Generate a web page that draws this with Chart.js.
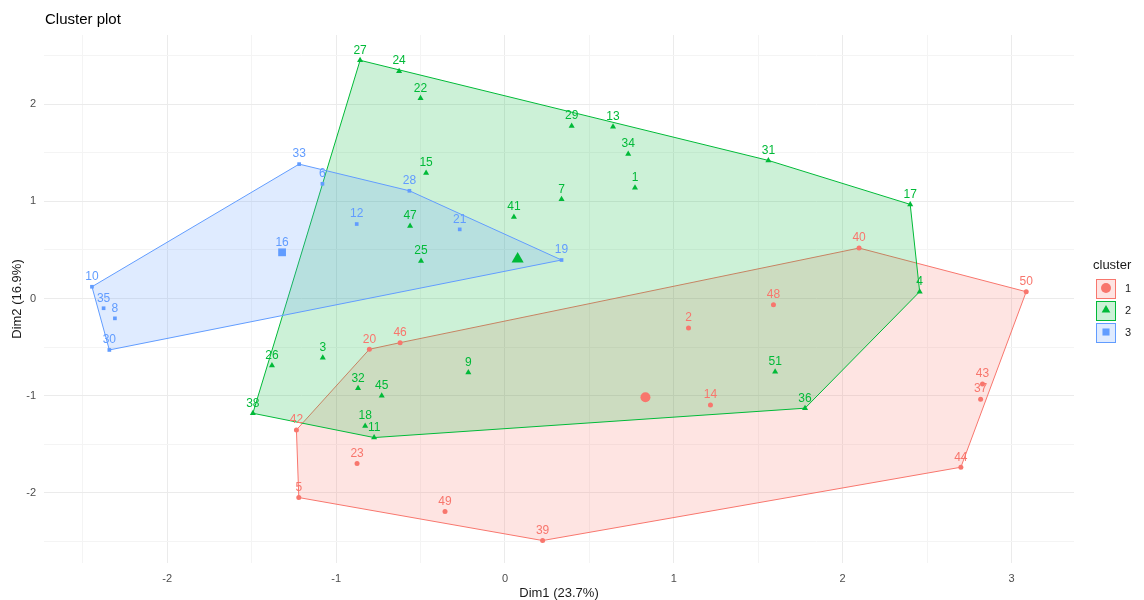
<!DOCTYPE html>
<html>
<head>
<meta charset="utf-8">
<script src="https://cdn.jsdelivr.net/npm/chart.js@4.4.1/dist/chart.umd.min.js"></script>
<style>
  html, body { margin: 0; padding: 0; background: #fff; }
</style>
</head>
<body>
<canvas id="clusterChart" width="1144" height="600"></canvas>
<script>
// Cluster 1 (rood)
const c1Labels = ['2', '5', '14', '20', '23', '37', '39', '40', '42', '43', '44', '46', '48', '49', '50'];
const c1Dim1 = [1.087, -1.221, 1.217, -0.803, -0.876, 2.817, 0.223, 2.097, -1.235, 2.828, 2.70, -0.621, 1.59, -0.355, 3.087];
const c1Dim2 = [-0.303, -2.047, -1.095, -0.522, -1.698, -1.035, -2.489, 0.519, -1.351, -0.879, -1.735, -0.454, -0.064, -2.191, 0.07];

// Cluster 2 (groen)
const c2Labels = ['1', '3', '4', '7', '9', '11', '13', '15', '17', '18', '22', '24', '25', '26', '27', '29', '31', '32', '34', '36', '38', '41', '45', '47', '51'];
const c2Dim1 = [0.77, -1.079, 2.456, 0.335, -0.217, -0.775, 0.64, -0.467, 2.40, -0.828, -0.50, -0.627, -0.497, -1.38, -0.858, 0.395, 1.56, -0.87, 0.73, 1.777, -1.493, 0.053, -0.73, -0.562, 1.60];
const c2Dim2 = [1.14, -0.608, 0.07, 1.02, -0.762, -1.43, 1.766, 1.29, 0.968, -1.31, 2.06, 2.338, 0.385, -0.69, 2.45, 1.773, 1.42, -0.923, 1.485, -1.128, -1.18, 0.838, -1.00, 0.745, -0.752];

// Cluster 3 (blauw)
const c3Labels = ['6', '8', '10', '12', '16', '19', '21', '28', '30', '33', '35'];
const c3Dim1 = [-1.081, -2.31, -2.446, -0.878, -1.32, 0.335, -0.268, -0.566, -2.343, -1.219, -2.377];
const c3Dim2 = [1.18, -0.204, 0.121, 0.766, 0.475, 0.396, 0.711, 1.108, -0.529, 1.382, -0.10];

// Middelpunten van de clusters
const centerNames = ['1', '2', '3'];
const centerDim1 = [0.832, 0.075, -1.32];
const centerDim2 = [-1.016, 0.406, 0.475];

// Ticks en assen
const xTicks = [-2.5, -2, -1.5, -1, -0.5, 0, 0.5, 1, 1.5, 2, 2.5, 3];
const yTicks = [-2.5, -2, -1.5, -1, -0.5, 0, 0.5, 1, 1.5, 2, 2.5];

// Kleuren en vormen per cluster
const clusterColors = ['#F8766D', '#00BA38', '#619CFF'];
const clusterFills = ['rgba(248,118,109,0.2)', 'rgba(0,186,56,0.2)', 'rgba(97,156,255,0.2)'];
const clusterShapes = ['circle', 'triangle', 'rect'];
const pointSizes = [2.5, 3.5, 2.6];
const centerSizes = [5, 7, 5.5];
const fontFamily = '"Liberation Sans", Arial, sans-serif';

const clusters = [
    { labels: c1Labels, dim1: c1Dim1, dim2: c1Dim2 },
    { labels: c2Labels, dim1: c2Dim1, dim2: c2Dim2 },
    { labels: c3Labels, dim1: c3Dim1, dim2: c3Dim2 }
].map(c => c.labels.map((l, i) => ({ x: c.dim1[i], y: c.dim2[i], label: l })));

// Convexe omhullende (monotone chain)
function convexHull(pts) {
    const p = pts.slice().sort((a, b) => a.x - b.x || a.y - b.y);
    const cross = (o, a, b) => (a.x - o.x) * (b.y - o.y) - (a.y - o.y) * (b.x - o.x);
    const build = list => {
        const out = [];
        list.forEach(pt => {
            while (out.length >= 2 && cross(out[out.length - 2], out[out.length - 1], pt) <= 0) out.pop();
            out.push(pt);
        });
        out.pop();
        return out;
    };
    return build(p).concat(build(p.slice().reverse()));
}

// Plugin: polygonen achter de punten
const hullPlugin = {
    id: 'hulls',
    beforeDatasetsDraw(chart) {
        const { ctx, chartArea, scales: { x, y } } = chart;
        ctx.save();
        ctx.beginPath();
        ctx.rect(chartArea.left, chartArea.top, chartArea.width, chartArea.height);
        ctx.clip();
        clusters.forEach((pts, i) => {
            const hull = convexHull(pts);
            ctx.beginPath();
            hull.forEach((p, j) => {
                const px = x.getPixelForValue(p.x);
                const py = y.getPixelForValue(p.y);
                if (j === 0) ctx.moveTo(px, py); else ctx.lineTo(px, py);
            });
            ctx.closePath();
            ctx.fillStyle = clusterFills[i];
            ctx.fill();
            ctx.strokeStyle = clusterColors[i];
            ctx.lineWidth = 1;
            ctx.stroke();
        });
        ctx.restore();
    }
};

// Plugin: labels, titel en legenda
const textPlugin = {
    id: 'texts',
    afterDatasetsDraw(chart) {
        const { ctx, scales: { x, y } } = chart;
        ctx.save();
        ctx.font = '12px ' + fontFamily;
        ctx.textAlign = 'center';
        ctx.textBaseline = 'bottom';
        clusters.forEach((pts, i) => {
            ctx.fillStyle = clusterColors[i];
            pts.forEach(p => {
                ctx.fillText(p.label, x.getPixelForValue(p.x), y.getPixelForValue(p.y) - 4);
            });
        });
        ctx.restore();
    },
    afterDraw(chart) {
        const { ctx, chartArea } = chart;
        ctx.save();
        ctx.fillStyle = '#000';
        ctx.font = '15px ' + fontFamily;
        ctx.textAlign = 'left';
        ctx.textBaseline = 'middle';
        ctx.fillText('Cluster plot', 45, 20);

        // legenda
        const lx = chartArea.right + 22;
        ctx.font = '13px ' + fontFamily;
        ctx.fillStyle = '#1A1A1A';
        ctx.fillText('cluster', chartArea.right + 19, 265);
        centerNames.forEach((name, i) => {
            const top = 279 + i * 22;
            ctx.fillStyle = clusterFills[i];
            ctx.fillRect(lx, top, 20, 20);
            ctx.strokeStyle = clusterColors[i];
            ctx.lineWidth = 1;
            ctx.strokeRect(lx + 0.5, top + 0.5, 19, 19);
            ctx.fillStyle = clusterColors[i];
            Chart.helpers.drawPoint(ctx, { pointStyle: clusterShapes[i], radius: 5, rotation: 0, borderWidth: 0 }, lx + 10, top + 9);
            ctx.fillStyle = '#1A1A1A';
            ctx.font = '11px ' + fontFamily;
            ctx.fillText(name, lx + 29, top + 10);
        });
        ctx.restore();
    }
};

// Datasets: punten per cluster en de middelpunten
const datasets = clusters.map((pts, i) => ({
    label: centerNames[i],
    data: pts.map(p => ({ x: p.x, y: p.y })),
    pointStyle: clusterShapes[i],
    pointRadius: pointSizes[i],
    backgroundColor: clusterColors[i],
    borderWidth: 0
})).concat(centerNames.map((name, i) => ({
    label: 'centrum ' + name,
    data: [{ x: centerDim1[i], y: centerDim2[i] }],
    pointStyle: clusterShapes[i],
    pointRadius: centerSizes[i],
    backgroundColor: clusterColors[i],
    borderWidth: 0
})));

const gridColor = ctx => Number.isInteger(ctx.tick.value) ? '#EBEBEB' : '#F4F4F4';

new Chart(document.getElementById('clusterChart').getContext('2d'), {
    type: 'scatter',
    data: { datasets: datasets },
    options: {
        responsive: false,
        animation: false,
        devicePixelRatio: 1,
        layout: { padding: { top: 35, right: 70, left: 0, bottom: 0 } },
        plugins: {
            legend: { display: false },
            tooltip: { enabled: false }
        },
        scales: {
            x: {
                type: 'linear',
                min: -2.73,
                max: 3.37,
                afterBuildTicks: s => { s.ticks = xTicks.map(v => ({ value: v })); },
                afterFit: s => { s.height = 37; },
                border: { display: false },
                grid: { color: gridColor, lineWidth: 1, drawTicks: false },
                ticks: {
                    autoSkip: false,
                    maxRotation: 0,
                    padding: 9,
                    color: '#4D4D4D',
                    font: { size: 11, family: fontFamily },
                    callback: v => Number.isInteger(v) ? String(v) : ''
                },
                title: {
                    display: true,
                    text: 'Dim1 (23.7%)',
                    color: '#1A1A1A',
                    font: { size: 13, family: fontFamily, lineHeight: 1 },
                    padding: { top: 0, bottom: 0 }
                }
            },
            y: {
                type: 'linear',
                min: -2.72,
                max: 2.71,
                afterBuildTicks: s => { s.ticks = yTicks.map(v => ({ value: v })); },
                afterFit: s => { s.width = 44; },
                border: { display: false },
                grid: { color: gridColor, lineWidth: 1, drawTicks: false },
                ticks: {
                    autoSkip: false,
                    padding: 8,
                    color: '#4D4D4D',
                    font: { size: 11, family: fontFamily },
                    callback: v => Number.isInteger(v) ? String(v) : ''
                },
                title: {
                    display: true,
                    text: 'Dim2 (16.9%)',
                    color: '#1A1A1A',
                    font: { size: 13, family: fontFamily, lineHeight: 1 },
                    padding: { top: 11, bottom: 0 }
                }
            }
        }
    },
    plugins: [hullPlugin, textPlugin]
});
</script>
</body>
</html>
